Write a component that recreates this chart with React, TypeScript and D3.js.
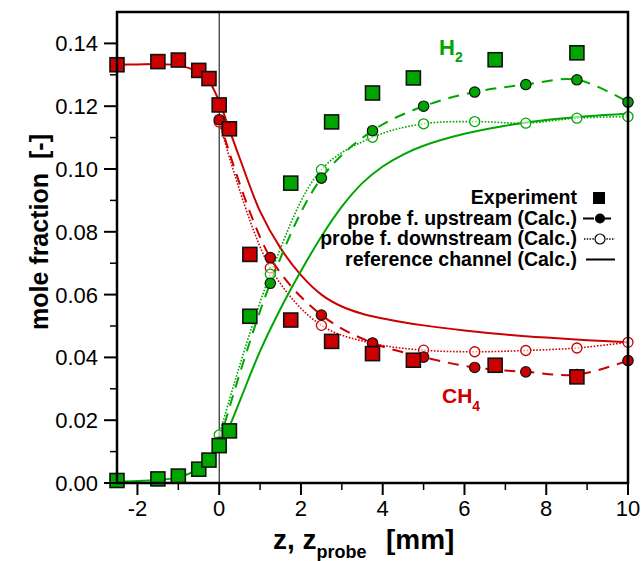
import * as d3 from "d3";

// experiment (squares)
const zExp = [-2.5, -1.5, -1, -0.5, -0.25, 0, 0.25, 0.75, 1.75, 2.75, 3.75, 4.75, 6.75, 8.75];
const ch4Exp = [0.1332, 0.1342, 0.1347, 0.1314, 0.1288, 0.1204, 0.1128, 0.0728, 0.0519, 0.0451, 0.0412, 0.0391, 0.0375, 0.0338];
const h2Exp = [0.0008, 0.0013, 0.0022, 0.0044, 0.0073, 0.0119, 0.0166, 0.0531, 0.0955, 0.115, 0.1242, 0.129, 0.1348, 0.137];

// probe calculations
const zProbe = [0, 1.25, 2.5, 3.75, 5, 6.25, 7.5, 8.75, 10];
const ch4Up = [0.1157, 0.0718, 0.0535, 0.0446, 0.0401, 0.0368, 0.0354, 0.0345, 0.039];
const ch4Down = [0.115, 0.0685, 0.0502, 0.0445, 0.0423, 0.0418, 0.0422, 0.043, 0.0448];
const h2Up = [0.013, 0.0636, 0.0971, 0.1122, 0.12, 0.1245, 0.1269, 0.1284, 0.1213];
const h2Down = [0.0153, 0.0665, 0.0998, 0.1101, 0.1144, 0.1151, 0.1146, 0.1162, 0.1167];

// reference channel
const zRef = [-2.5, -2, -1.5, -1, -0.5, -0.25, 0, 0.25, 0.5, 1, 1.5, 2, 2.5, 3, 3.5, 4, 4.5, 5, 6, 7, 8, 9, 10];
const ch4Ref = [0.1332, 0.1333, 0.1334, 0.133, 0.1308, 0.128, 0.1215, 0.1125, 0.1035, 0.0865, 0.0748, 0.0662, 0.06, 0.0562, 0.0539, 0.0524, 0.0512, 0.0502, 0.0486, 0.0473, 0.0463, 0.0455, 0.0448];
const h2Ref = [0.0004, 0.0006, 0.001, 0.0018, 0.0045, 0.007, 0.0115, 0.018, 0.026, 0.042, 0.0555, 0.0675, 0.0785, 0.088, 0.0955, 0.1008, 0.1046, 0.1074, 0.1112, 0.1138, 0.1156, 0.1168, 0.1176];

const xMajor = [-2, 0, 2, 4, 6, 8, 10];
const xMinor = [-1, 1, 3, 5, 7, 9];
const yMajor = [0, 0.02, 0.04, 0.06, 0.08, 0.1, 0.12, 0.14];
const yMinor = [0.01, 0.03, 0.05, 0.07, 0.09, 0.11, 0.13];

const legendItems = ["Experiment", "probe f. upstream (Calc.)", "probe f. downstream (Calc.)", "reference channel (Calc.)"];

const RED = "#cc0000";
const GREEN = "#00a600";
const FONT = "'Liberation Sans', Arial, sans-serif";

const W = 643;
const H = 561;
const left = 117, right = 628, top = 12, bottom = 483;

export default function App() {
  const x = d3.scaleLinear().domain([-2.5, 10]).range([left, right]);
  const y = d3.scaleLinear().domain([0, 0.15]).range([bottom, top]);
  const line = (zs: number[], vs: number[]) =>
    d3.line<number>().x((d, i) => x(zs[i])).y((d) => y(d)).curve(d3.curveCatmullRom)(vs) || "";

  const series = [
    { color: RED, exp: ch4Exp, up: ch4Up, down: ch4Down, ref: ch4Ref },
    { color: GREEN, exp: h2Exp, up: h2Up, down: h2Down, ref: h2Ref },
  ];
  const sq = 14;

  return (
    <svg width={W} height={H} style={{ position: "absolute", left: 0, top: 0, background: "#fff" }} fontFamily={FONT}>
      {/* zero line */}
      <line x1={x(0)} x2={x(0)} y1={top} y2={bottom} stroke="#000" strokeWidth={1} />

      {series.map((s, k) => (
        <g key={"l" + k}>
          <path d={line(zRef, s.ref)} fill="none" stroke={s.color} strokeWidth={2} />
          <path d={line(zProbe, s.up)} fill="none" stroke={s.color} strokeWidth={2} strokeDasharray="11,8" />
          <path d={line(zProbe, s.down)} fill="none" stroke={s.color} strokeWidth={1.6} strokeDasharray="1.6,1.6" />
        </g>
      ))}

      {series.map((s, k) => (
        <g key={"p" + k}>
          {s.down.map((v, i) => (
            <circle key={"d" + i} cx={x(zProbe[i])} cy={y(v)} r={5} fill="#fff" fillOpacity={0.6} stroke={s.color} strokeWidth={1.3} />
          ))}
          {s.up.map((v, i) => (
            <circle key={"u" + i} cx={x(zProbe[i])} cy={y(v)} r={5.2} fill={s.color} stroke="#111" strokeWidth={1.2} />
          ))}
          {s.exp.map((v, i) => (
            <rect key={"e" + i} x={x(zExp[i]) - sq / 2} y={y(v) - sq / 2} width={sq} height={sq} fill={s.color} stroke="#111" strokeWidth={1.6} />
          ))}
        </g>
      ))}

      {/* frame */}
      <rect x={left} y={top} width={right - left} height={bottom - top} fill="none" stroke="#000" strokeWidth={2.5} />

      {/* x ticks */}
      {xMajor.map((t) => (
        <g key={"xm" + t}>
          <line x1={x(t)} x2={x(t)} y1={bottom} y2={bottom + 12} stroke="#000" strokeWidth={2} />
          <text x={x(t)} y={516} textAnchor="middle" fontSize={22}>{t < 0 ? "-" + Math.abs(t) : t}</text>
        </g>
      ))}
      {xMinor.map((t) => (
        <line key={"xn" + t} x1={x(t)} x2={x(t)} y1={bottom} y2={bottom + 7} stroke="#000" strokeWidth={1.5} />
      ))}

      {/* y ticks */}
      {yMajor.map((t) => (
        <g key={"ym" + t}>
          <line x1={left - 13} x2={left} y1={y(t)} y2={y(t)} stroke="#000" strokeWidth={2} />
          <text x={98} y={y(t) + 8} textAnchor="end" fontSize={22}>{d3.format(".2f")(t)}</text>
        </g>
      ))}
      {yMinor.map((t) => (
        <line key={"yn" + t} x1={left - 7} x2={left} y1={y(t)} y2={y(t)} stroke="#000" strokeWidth={1.5} />
      ))}

      {/* axis titles */}
      <text transform="translate(48,232) rotate(-90)" textAnchor="middle" fontSize={25} fontWeight="bold">
        mole fraction<tspan dx={14}>[-]</tspan>
      </text>
      <text x={273} y={549} fontSize={28} fontWeight="bold">
        z, z<tspan fontSize={18} dy={9}>probe</tspan>
      </text>
      <text x={386} y={549} fontSize={28} fontWeight="bold">[mm]</text>

      {/* species labels */}
      <text x={439} y={55} fontSize={22} fontWeight="bold" fill={GREEN}>
        H<tspan fontSize={14} dy={7}>2</tspan>
      </text>
      <text x={442} y={403} fontSize={21} fontWeight="bold" fill={RED}>
        CH<tspan fontSize={14} dy={8}>4</tspan>
      </text>

      {/* legend */}
      {legendItems.map((t, i) => {
        const by = 204 + i * 20.5;
        const cy = by - 6;
        return (
          <g key={t}>
            <text x={577} y={by} textAnchor="end" fontSize={19.5} fontWeight="bold">{t}</text>
            {i === 0 && <rect x={593} y={cy - 6} width={12} height={12} fill="#000" />}
            {i === 1 && (
              <g>
                <line x1={583} x2={617} y1={cy} y2={cy} stroke="#000" strokeWidth={2} strokeDasharray="11,6" />
                <circle cx={600} cy={cy} r={5} fill="#000" />
              </g>
            )}
            {i === 2 && (
              <g>
                <line x1={584} x2={615} y1={cy} y2={cy} stroke="#000" strokeWidth={1.3} strokeDasharray="1.4,1.4" />
                <circle cx={600} cy={cy} r={5} fill="#fff" stroke="#000" strokeWidth={1.2} />
              </g>
            )}
            {i === 3 && <line x1={586} x2={615} y1={cy} y2={cy} stroke="#000" strokeWidth={2} />}
          </g>
        );
      })}
    </svg>
  );
}
